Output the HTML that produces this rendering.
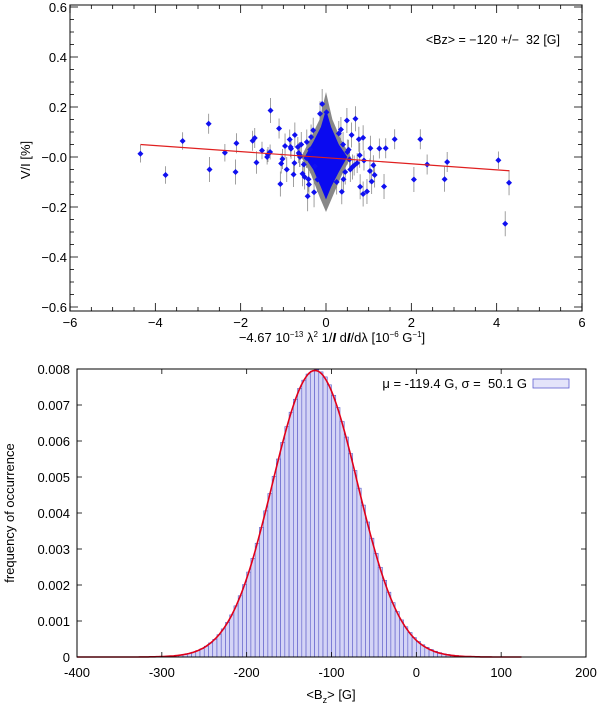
<!DOCTYPE html>
<html><head><meta charset="utf-8"><style>
html,body{margin:0;padding:0;background:#fff;}
svg{display:block;font-family:"Liberation Sans",sans-serif;}
text{white-space:pre;}
</style></head><body>
<svg id="root" width="600" height="705" viewBox="0 0 600 705">
<g id="top"></g>
<g id="bot"></g>
</svg>
<script>
// ---- top chart data ----
const ptsX = [-4.35,-3.76,-3.36,-2.75,-2.73,-2.37,-2.10,-2.12,-1.72,-1.67,-1.63,-1.50,-1.30,-1.31,-1.38,-1.36,-1.10,-1.07,-1.02,-1.05,-0.96,-0.92,-0.85,-0.83,-0.82,-0.73,-0.76,-0.74,-0.66,-0.64,-0.61,-0.55,-0.50,-0.46,-0.43,-0.41,-0.37,-0.30,-0.28,-0.26,-0.14,-0.09,0.01,0.30,0.37,0.41,0.49,0.60,0.69,0.53,0.55,0.57,0.66,0.73,0.77,0.79,0.80,0.87,0.87,0.96,0.89,1.04,1.03,1.07,1.11,1.14,1.25,1.36,1.40,1.61,2.06,2.21,2.37,2.78,2.84,4.04,4.20,4.29,-0.58,-0.52,-0.45,-0.40,0.40,0.45,0.50,0.35,-0.35,-0.62,0.62,-0.20,0.25];
const ptsY = [0.013,-0.072,0.064,0.133,-0.050,0.017,0.055,-0.060,0.065,0.076,-0.022,0.026,0.186,0.020,0.000,0.010,0.114,-0.108,-0.008,-0.026,0.044,-0.050,0.070,0.040,0.033,0.088,-0.070,-0.024,0.040,0.016,0.000,-0.067,-0.080,-0.004,-0.157,-0.089,0.030,0.107,-0.141,-0.037,0.173,0.212,0.179,0.094,-0.139,-0.089,0.146,0.088,0.153,0.029,-0.010,-0.050,-0.034,-0.024,0.071,0.007,-0.119,0.077,-0.148,-0.138,-0.014,0.035,-0.056,-0.098,-0.033,-0.072,0.034,-0.118,0.035,0.071,-0.090,0.071,-0.030,-0.089,-0.020,-0.013,-0.267,-0.103,0.050,-0.030,0.060,-0.110,0.050,-0.060,0.020,0.110,0.080,0.010,-0.040,-0.090,-0.100];
const ptsErr = [0.035,0.035,0.035,0.04,0.05,0.035,0.04,0.05,0.04,0.04,0.045,0.035,0.05,0.03,0.03,0.03,0.04,0.05,0.04,0.04,0.05,0.05,0.04,0.04,0.04,0.05,0.05,0.05,0.04,0.04,0.04,0.05,0.05,0.04,0.06,0.05,0.04,0.05,0.06,0.05,0.05,0.06,0.05,0.05,0.05,0.05,0.05,0.05,0.05,0.04,0.04,0.05,0.04,0.04,0.05,0.05,0.05,0.05,0.05,0.05,0.04,0.05,0.05,0.05,0.04,0.05,0.04,0.05,0.04,0.04,0.05,0.04,0.04,0.05,0.04,0.035,0.05,0.05,0.05,0.05,0.05,0.05,0.05,0.05,0.05,0.05,0.05,0.05,0.05,0.05,0.05];
const coreX = [0.0,0.12,0.3,0.5,0.3,0.12,0.0,-0.12,-0.3,-0.5,-0.3,-0.12];
const coreY = [0.19,0.12,0.05,0.0,-0.06,-0.12,-0.17,-0.12,-0.05,0.0,0.06,0.12];
const envX = [0.0,0.15,0.35,0.58,0.35,0.15,0.0,-0.15,-0.35,-0.58,-0.35,-0.15];
const envY = [0.26,0.15,0.07,0.0,-0.08,-0.16,-0.22,-0.16,-0.07,0.0,0.08,0.15];
const fitX = [-4.35,4.30];
const fitY = [0.050,-0.055];
const xTicksTop = [-6,-4,-2,0,2,4,6];
const yTicksTop = [0.6,0.4,0.2,0.0,-0.2,-0.4,-0.6];
const yTickLabelsTop = ["0.6","0.4","0.2","\u22120.0","\u22120.2","\u22120.4","\u22120.6"];
const xTickLabelsTop = ["\u22126","\u22124","\u22122","0","2","4","6"];
// ---- bottom chart data ----
const binStart = -300, binWidth = 5;
const binVals = [0.000014,0.00002,0.00003,0.00004,0.00005,0.00007,0.0001,0.000135,0.00018,0.00023,0.0003,0.00039,0.00049,0.00062,0.00078,0.00096,0.00117,0.00142,0.0017,0.00201,0.00236,0.00274,0.00316,0.0036,0.00406,0.00454,0.00502,0.0055,0.00596,0.0064,0.0068,0.00716,0.00746,0.00769,0.00786,0.00794,0.00798,0.00792,0.00778,0.00756,0.00727,0.00693,0.00654,0.00611,0.00565,0.00518,0.00469,0.00422,0.00375,0.0033,0.00288,0.00249,0.00213,0.0018,0.00151,0.00126,0.00103,0.00084,0.00068,0.00054,0.00043,0.00034,0.00027,0.00021,0.00016,0.00012,0.00009,0.00007,0.00005,0.00004,0.00003,0.00002];
const fitMu = -119.4, fitSigma = 50.1, fitPeak = 0.00796;
const xTicksBot = [-400,-300,-200,-100,0,100,200];
const yTicksBot = [0,0.001,0.002,0.003,0.004,0.005,0.006,0.007,0.008];
const yTickLabelsBot = ["0","0.001","0.002","0.003","0.004","0.005","0.006","0.007","0.008"];

const NS="http://www.w3.org/2000/svg";
function mk(parent,tag,attrs){const e=document.createElementNS(NS,tag);for(const k in attrs)e.setAttribute(k,attrs[k]);parent.appendChild(e);return e;}

// ===== TOP =====
const T=document.getElementById('top');
const L1=70,R1=582,T1=5,B1=311;
const sx1=v=>(L1+R1)/2+v*(R1-L1)/12;
const sy1=v=>157-v*250;
let e;
e=mk(T,'polygon',{points:envX.map((v,i)=>sx1(v)+','+sy1(envY[i])).join(' '),fill:'#555',opacity:'0.7'});


ptsX.forEach((v,i)=>{
 const l=mk(T,'line',{x1:sx1(v),x2:sx1(v),y1:sy1(ptsY[i]+ptsErr[i]),y2:sy1(ptsY[i]-ptsErr[i]),stroke:'#888','stroke-width':0.8});
 
 
});
e=mk(T,'polygon',{points:coreX.map((v,i)=>sx1(v)+','+sy1(coreY[i])).join(' '),fill:'#0a0af0'});


ptsX.forEach((v,i)=>{
 const x=sx1(v),y=sy1(ptsY[i]);
 const p=mk(T,'polygon',{points:`${x},${y-3} ${x+3},${y} ${x},${y+3} ${x-3},${y}`,fill:'#1010f0'});
 
 
});
e=mk(T,'line',{x1:sx1(fitX[0]),y1:sy1(fitY[0]),x2:sx1(fitX[1]),y2:sy1(fitY[1]),stroke:'#e02020','stroke-width':1.2});


e=mk(T,'rect',{x:L1,y:T1,width:R1-L1,height:B1-T1,fill:'none',stroke:'#333','stroke-width':1.2});


for(let v=-6;v<=6.001;v+=0.5){const x=sx1(v),maj=Math.abs(v%2)<1e-6;const len=maj?8:4;
 mk(T,'line',{x1:x,x2:x,y1:B1,y2:B1-len,stroke:'#000','stroke-width':0.8});
 mk(T,'line',{x1:x,x2:x,y1:T1,y2:T1+len,stroke:'#000','stroke-width':0.8});}
for(let v=-0.6;v<=0.601;v+=0.05){const y=sy1(v),maj=Math.abs(Math.round(v*100)%20)<1;const len=maj?8:4;
 mk(T,'line',{x1:L1,x2:L1+len,y1:y,y2:y,stroke:'#000','stroke-width':0.8});
 mk(T,'line',{x1:R1,x2:R1-len,y1:y,y2:y,stroke:'#000','stroke-width':0.8});}
xTicksTop.forEach((v,i)=>{const t=mk(T,'text',{x:sx1(v),y:B1+16,'font-size':13,'text-anchor':'middle'});t.textContent=xTickLabelsTop[i];
 
 });
yTicksTop.forEach((v,i)=>{const t=mk(T,'text',{x:L1-3,y:sy1(v)+5,'font-size':13,'text-anchor':'end'});t.textContent=yTickLabelsTop[i];
 
 });
e=mk(T,'text',{x:560,y:44,'font-size':12.5,'text-anchor':'end'});e.textContent='<Bz> = \u2212120 +/\u2212  32 [G]';


e=mk(T,'text',{x:0,y:0,'font-size':13,'text-anchor':'middle',transform:'translate(30,160) rotate(-90)'});e.textContent='V/I [%]';


e=mk(T,'text',{x:332,y:342,'font-size':13,'text-anchor':'middle'});
e.innerHTML='\u22124.67 10<tspan dy="-5" font-size="8">\u221213</tspan><tspan dy="5"> \u03bb</tspan><tspan dy="-5" font-size="8">2</tspan><tspan dy="5"> 1/</tspan><tspan font-style="italic" font-weight="bold">I</tspan> d<tspan font-style="italic" font-weight="bold">I</tspan>/d\u03bb [10<tspan dy="-5" font-size="8">\u22126</tspan><tspan dy="5"> G</tspan><tspan dy="-5" font-size="8">\u22121</tspan><tspan dy="5">]</tspan>';



// ===== BOTTOM =====
const B=document.getElementById('bot');
const L2=77,R2=586,T2=369,B2=657;
const sx2=v=>L2+(v+400)*(R2-L2)/600;
const sy2=v=>B2-v*(B2-T2)/0.008;
binVals.forEach((v,i)=>{const x0=sx2(binStart+i*binWidth),x1=sx2(binStart+(i+1)*binWidth);
 const r=mk(B,'rect',{x:x0,y:sy2(v),width:x1-x0,height:B2-sy2(v),fill:'#d4d4f6',stroke:'#5a5ac8','stroke-width':0.6});
 
 });
let d='';for(let x=-400;x<=125;x+=2){const y=fitPeak*Math.exp(-Math.pow(x-fitMu,2)/(2*fitSigma*fitSigma));d+=(d?'L':'M')+sx2(x).toFixed(1)+','+sy2(y).toFixed(1);}
e=mk(B,'path',{d:d,fill:'none',stroke:'#e0001a','stroke-width':1.6});


e=mk(B,'rect',{x:L2,y:T2,width:R2-L2,height:B2-T2,fill:'none',stroke:'#000','stroke-width':1});


xTicksBot.forEach(v=>{const x=sx2(v);mk(B,'line',{x1:x,x2:x,y1:B2,y2:B2-5,stroke:'#000','stroke-width':0.8});mk(B,'line',{x1:x,x2:x,y1:T2,y2:T2+5,stroke:'#000','stroke-width':0.8});
 const t=mk(B,'text',{x:x,y:B2+20,'font-size':13,'text-anchor':'middle'});t.textContent=String(v);
 
 });
yTicksBot.forEach((v,i)=>{const y=sy2(v);mk(B,'line',{x1:L2,x2:L2+5,y1:y,y2:y,stroke:'#000','stroke-width':0.8});mk(B,'line',{x1:R2,x2:R2-5,y1:y,y2:y,stroke:'#000','stroke-width':0.8});
 const t=mk(B,'text',{x:L2-7,y:y+5,'font-size':13,'text-anchor':'end'});t.textContent=yTickLabelsBot[i];
 
 });
e=mk(B,'text',{x:527,y:388,'font-size':13,'text-anchor':'end'});e.textContent='\u03bc = -119.4 G, \u03c3 =  50.1 G';


e=mk(B,'rect',{x:533,y:379,width:36,height:9,fill:'#e4e4fa',stroke:'#6060d0','stroke-width':0.8});


e=mk(B,'text',{x:0,y:0,'font-size':13,'text-anchor':'middle',transform:'translate(14,513) rotate(-90)'});e.textContent='frequency of occurrence';


e=mk(B,'text',{x:331,y:699,'font-size':13,'text-anchor':'middle'});e.innerHTML='&lt;B<tspan dy="4" font-size="9">z</tspan><tspan dy="-4">&gt; [G]</tspan>';


</script>
</body></html>
